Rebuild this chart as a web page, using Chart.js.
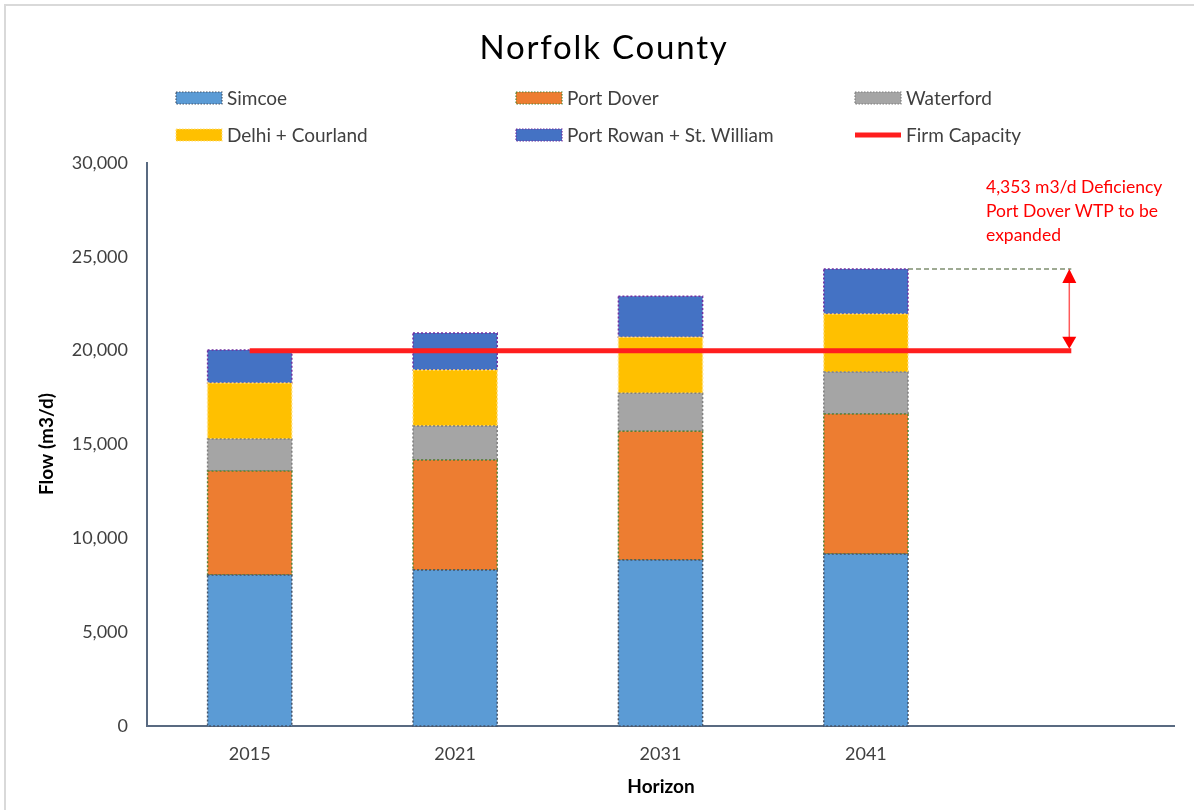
<!DOCTYPE html>
<html>
<head>
<meta charset="utf-8">
<script src="https://cdn.jsdelivr.net/npm/chart.js@4.4.1/dist/chart.umd.min.js"></script>
<style>
html,body{margin:0;padding:0;background:#fff;}
#wrap{width:1194px;height:810px;position:relative;}
</style>
</head>
<body>
<div id="wrap"><canvas id="c" width="1194" height="810"></canvas></div>
<script>
const categories = ['2015', '2021', '2031', '2041', ''];
const simcoe = [8050, 8310, 8840, 9160];
const portDover = [5540, 5860, 6870, 7460];
const waterford = [1705, 1810, 2025, 2240];
const delhiCourland = [2985, 2985, 2985, 3090];
const portRowan = [1760, 1970, 2185, 2400];
const firmCapacity = [19995, 19995, 19995, 19995, 19995];
const yTicks = [0, 5000, 10000, 15000, 20000, 25000, 30000];
const titleText = 'Norfolk County';
const yTitle = 'Flow (m3/d)';
const xTitle = 'Horizon';
const noteLines = ['4,353 m3/d Deficiency', 'Port Dover WTP to be', 'expanded'];

const FONT = 'Lato, "Noto Sans", sans-serif';

const barStyle = (label, data, fill, dot) => ({
  type: 'bar', label, data, backgroundColor: fill, borderWidth: 0,
  dotColor: dot, order: 1, stack: 's',
  barPercentage: 0.41, categoryPercentage: 1
});

const datasets = [
  barStyle('Simcoe', simcoe, '#5B9BD5', '#44546A'),
  barStyle('Port Dover', portDover, '#ED7D31', '#548235'),
  barStyle('Waterford', waterford, '#A5A5A5', '#7F7F7F'),
  barStyle('Delhi + Courland', delhiCourland, '#FFC000', '#FFE080'),
  barStyle('Port Rowan + St. William', portRowan, '#4472C4', '#7030A0'),
  { type: 'line', label: 'Firm Capacity', data: firmCapacity, borderColor: '#FF1E1E',
    backgroundColor: '#FF1E1E', borderWidth: 5, pointRadius: 0, order: 0,
    borderCapStyle: 'butt', tension: 0, fill: false }
];

const decor = {
  id: 'decor',
  beforeDraw(chart) {
    const ctx = chart.ctx;
    ctx.save();
    ctx.fillStyle = '#fff';
    ctx.fillRect(0, 0, chart.width, chart.height);
    ctx.strokeStyle = '#D9D9D9';
    ctx.lineWidth = 2;
    ctx.beginPath();
    ctx.moveTo(5, chart.height); ctx.lineTo(5, 5); ctx.lineTo(chart.width, 5);
    ctx.stroke();
    ctx.restore();
  },
  afterDatasetDraw(chart, args) {
    const ds = chart.data.datasets[args.index];
    if (ds.type !== 'bar') return;
    const ctx = chart.ctx;
    ctx.save();
    ctx.strokeStyle = ds.dotColor;
    ctx.lineWidth = 1.5;
    ctx.setLineDash([2, 2]);
    args.meta.data.forEach(el => {
      const p = el.getProps(['x', 'y', 'base', 'width'], true);
      ctx.strokeRect(p.x - p.width / 2, p.y, p.width, p.base - p.y);
    });
    ctx.restore();
  },
  afterDraw(chart) {
    const ctx = chart.ctx;
    const xs = chart.scales.x, ys = chart.scales.y;
    const ca = chart.chartArea;
    ctx.save();
    // title
    ctx.fillStyle = '#000';
    ctx.font = '33px ' + FONT;
    ctx.textAlign = 'center';
    ctx.textBaseline = 'middle';
    ctx.letterSpacing = '1.8px';
    ctx.fillText(titleText, 604, 48);
    ctx.letterSpacing = '0px';
    // legend
    const cols = [176, 516, 855], rows = [98, 135];
    ctx.font = '19px ' + FONT;
    ctx.textAlign = 'left';
    chart.data.datasets.forEach((ds, i) => {
      const cx = cols[i % 3], cy = rows[Math.floor(i / 3)];
      if (ds.type === 'bar') {
        ctx.fillStyle = ds.backgroundColor;
        ctx.fillRect(cx, cy - 6, 46, 12);
        ctx.strokeStyle = ds.dotColor;
        ctx.lineWidth = 1.2;
        ctx.setLineDash([1.5, 1.5]);
        ctx.strokeRect(cx, cy - 6, 46, 12);
        ctx.setLineDash([]);
      } else {
        ctx.fillStyle = ds.borderColor;
        ctx.fillRect(cx, cy - 2.5, 46, 5);
      }
      ctx.fillStyle = '#404040';
      ctx.fillText(ds.label, cx + 51, cy + 1);
    });
    // axis titles
    ctx.fillStyle = '#000';
    ctx.font = 'bold 19px ' + FONT;
    ctx.textAlign = 'center';
    ctx.fillText(xTitle, 661, 787);
    ctx.save();
    ctx.translate(47, 444);
    ctx.rotate(-Math.PI / 2);
    ctx.fillText(yTitle, 0, 0);
    ctx.restore();
    // deficiency annotation
    const last = 3;
    const total = simcoe[last] + portDover[last] + waterford[last] + delhiCourland[last] + portRowan[last];
    const yTop = ys.getPixelForValue(total);
    const yFirm = ys.getPixelForValue(firmCapacity[last]);
    const barEl = chart.getDatasetMeta(4).data[last];
    const bp = barEl.getProps(['x', 'width'], true);
    const xEnd = xs.getPixelForValue(4);
    ctx.strokeStyle = '#7F8F70';
    ctx.lineWidth = 1.5;
    ctx.setLineDash([5, 3]);
    ctx.beginPath();
    ctx.moveTo(bp.x + bp.width / 2, yTop); ctx.lineTo(xEnd, yTop);
    ctx.stroke();
    ctx.setLineDash([]);
    const ax = xEnd - 2;
    ctx.strokeStyle = '#FF5A5A';
    ctx.lineWidth = 1.5;
    ctx.beginPath();
    ctx.moveTo(ax, yTop + 10); ctx.lineTo(ax, yFirm - 10);
    ctx.stroke();
    ctx.fillStyle = '#FF0000';
    ctx.beginPath();
    ctx.moveTo(ax, yTop); ctx.lineTo(ax - 7, yTop + 14); ctx.lineTo(ax + 7, yTop + 14); ctx.closePath();
    ctx.fill();
    ctx.beginPath();
    ctx.moveTo(ax, yFirm - 2); ctx.lineTo(ax - 7, yFirm - 14); ctx.lineTo(ax + 7, yFirm - 14); ctx.closePath();
    ctx.fill();
    ctx.font = '17.5px ' + FONT;
    ctx.textAlign = 'left';
    ctx.fillStyle = '#FF0000';
    noteLines.forEach((t, i) => ctx.fillText(t, 986, 187 + i * 24));
    ctx.restore();
  }
};

new Chart(document.getElementById('c'), {
  data: { labels: categories, datasets },
  options: {
    responsive: false,
    animation: false,
    events: [],
    layout: { padding: { left: 0, right: 20, top: 163, bottom: 0 } },
    plugins: { legend: { display: false }, title: { display: false }, tooltip: { enabled: false } },
    scales: {
      x: {
        stacked: true,
        grid: { display: false, drawTicks: false },
        border: { display: true, color: '#596A81', width: 2 },
        ticks: { color: '#404040', font: { family: FONT, size: 18 }, padding: 17, maxRotation: 0 },
        afterFit: s => { s.height = 84; }
      },
      y: {
        stacked: true,
        min: 0, max: 30000,
        afterBuildTicks: s => { s.ticks = yTicks.map(v => ({ value: v })); },
        grid: { display: false, drawTicks: false },
        border: { display: true, color: '#596A81', width: 2 },
        ticks: { color: '#404040', font: { family: FONT, size: 18 }, padding: 19,
          callback: v => v.toLocaleString('en-US') },
        afterFit: s => { s.width = 147; }
      }
    }
  },
  plugins: [decor]
});
</script>
</body>
</html>
